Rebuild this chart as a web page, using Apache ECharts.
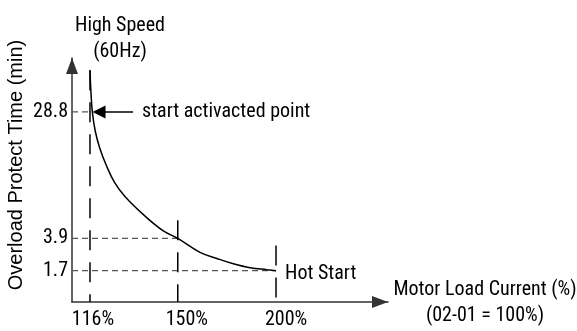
<!DOCTYPE html>
<html><head><meta charset="utf-8">
<script src="https://cdn.jsdelivr.net/npm/echarts@6/dist/echarts.min.js"></script>
<style>html,body{margin:0;padding:0;background:#fff}#c{width:577px;height:331px}</style>
</head><body><div id="c"></div>
<script>
// ---- data (schematic chart) ----
const xTicks = [116, 150, 200];              // motor load current (%)
const xTickLabels = ['116%', '150%', '200%'];
const yTicks = [28.8, 3.9, 1.7];             // overload protect time (min)
const yTickLabels = ['28.8', '3.9', '1.7'];
const curveX = [116, 116.35, 116.8, 117.8, 119.35, 121.7, 124.7, 128.5, 136.3, 143.8, 150, 160.1, 168.2, 176.5, 185.4, 194.7, 200];
const curveY = [45, 35.5, 28.8, 22.9, 18.4, 14.4, 11.1, 8.85, 6.19, 4.59, 3.9, 2.8, 2.39, 2.07, 1.85, 1.75, 1.7];
const guideTop = [45, 5.7, 3.3];             // top of the vertical guide at each x tick
const xRange = [110.05, 277.6];
const yRange = [0.559, 50.67];
const arrowFrom = [131.6, 28.8];
const arrowTo = [119.1, 28.8];               // arrow head centre
const hotStart = [200, 1.7];

// axis transforms: x logarithmic, y cube-root (schematic spacing of the original)
const fx = v => Math.log10(v);
const fy = v => Math.cbrt(v);

const NARROW = "'Roboto Condensed','Liberation Sans',sans-serif";
const FS = 20;
const TXT = '#000';

const series = [];
series.push({type: 'line', data: curveX.map((x, i) => [fx(x), fy(curveY[i])]),
  smooth: 0.4, symbol: 'none', lineStyle: {color: '#000', width: 1.5}, z: 5});
xTicks.forEach((x, i) => {
  series.push({type: 'line', data: [[fx(x), fy(guideTop[i])], [fx(x), fy(yRange[0])]],
    symbol: 'none', lineStyle: {color: '#000', width: 1.5, type: [20, 12]}, z: 3});
  series.push({type: 'line', data: [[fx(xRange[0]), fy(yTicks[i])], [fx(x), fy(yTicks[i])]],
    symbol: 'none', lineStyle: {color: '#555', width: 1.2, type: [6, 4]}, z: 2});
});
series.push({type: 'lines', coordinateSystem: 'cartesian2d',
  data: [{coords: [[fx(arrowFrom[0]), fy(arrowFrom[1])], [fx(arrowTo[0]), fy(arrowTo[1])]]}],
  symbol: ['none', 'triangle'], symbolSize: [11, 13],
  lineStyle: {color: '#000', width: 1.5, opacity: 1}, z: 6});
series.push({type: 'scatter', symbolSize: 0, z: 7, silent: true, itemStyle: {opacity: 1},
  data: [
    {value: [fx(arrowFrom[0]), fy(arrowFrom[1])], label: {formatter: 'start activacted point', distance: 9}},
    {value: [fx(hotStart[0]), fy(hotStart[1])], label: {formatter: 'Hot Start', distance: 9, offset: [0, 3]}}
  ],
  label: {show: true, position: 'right', fontFamily: NARROW, fontSize: FS, color: TXT, opacity: 1}});

const findIdx = (arr, f, v) => arr.findIndex(t => Math.abs(f(t) - v) < 1e-6);
const rs = pad => ({fontFamily: NARROW, fontSize: FS, color: TXT, padding: [0, 0, 0, pad]});

const option = {
  animation: false, backgroundColor: '#fff',
  grid: {left: 72, right: 189, top: 58, bottom: 29, outerBoundsMode: 'none'},
  xAxis: {type: 'value', min: fx(xRange[0]), max: fx(xRange[1]),
    axisLine: {onZero: false, lineStyle: {color: '#333', width: 1.5},
      symbol: ['none', 'triangle'], symbolSize: [12, 16], symbolOffset: [0, -8]},
    axisTick: {show: false}, splitLine: {show: false},
    axisLabel: {customValues: xTicks.map(fx), margin: 8, fontFamily: NARROW, fontSize: FS, color: TXT,
      formatter: v => { const i = findIdx(xTicks, fx, v); return i < 0 ? '' : '{s' + i + '|' + xTickLabels[i] + '}'; },
      rich: {s0: rs(6), s1: rs(18), s2: rs(20)}}},
  yAxis: {type: 'value', min: fy(yRange[0]), max: fy(yRange[1]),
    axisLine: {onZero: false, lineStyle: {color: '#333', width: 1.5},
      symbol: ['none', 'triangle'], symbolSize: [12, 16], symbolOffset: [0, -8]},
    axisTick: {show: false}, splitLine: {show: false},
    axisLabel: {customValues: yTicks.map(fy), margin: 4, fontFamily: NARROW, fontSize: FS, color: TXT,
      formatter: v => { const i = findIdx(yTicks, fy, v); return i < 0 ? '' : yTickLabels[i]; }}},
  graphic: [
    {type: 'text', x: 120, y: 13, style: {text: 'High Speed\n(60Hz)', font: FS + 'px ' + NARROW, fill: TXT,
      textAlign: 'center', textVerticalAlign: 'top', lineHeight: 26}},
    {type: 'text', x: 485, y: 303, style: {text: 'Motor Load Current (%)\n(02-01 = 100%)', font: FS + 'px ' + NARROW, fill: TXT,
      textAlign: 'center', textVerticalAlign: 'middle', lineHeight: 26}},
    {type: 'text', x: 16, y: 165, rotation: Math.PI / 2, style: {text: 'Overload Protect Time (min)',
      font: "20px 'Liberation Sans', Arial, sans-serif", fill: TXT, textAlign: 'center', textVerticalAlign: 'middle'}}
  ],
  series: series
};
echarts.init(document.getElementById('c'), null, {renderer: 'canvas'}).setOption(option);
</script></body></html>
